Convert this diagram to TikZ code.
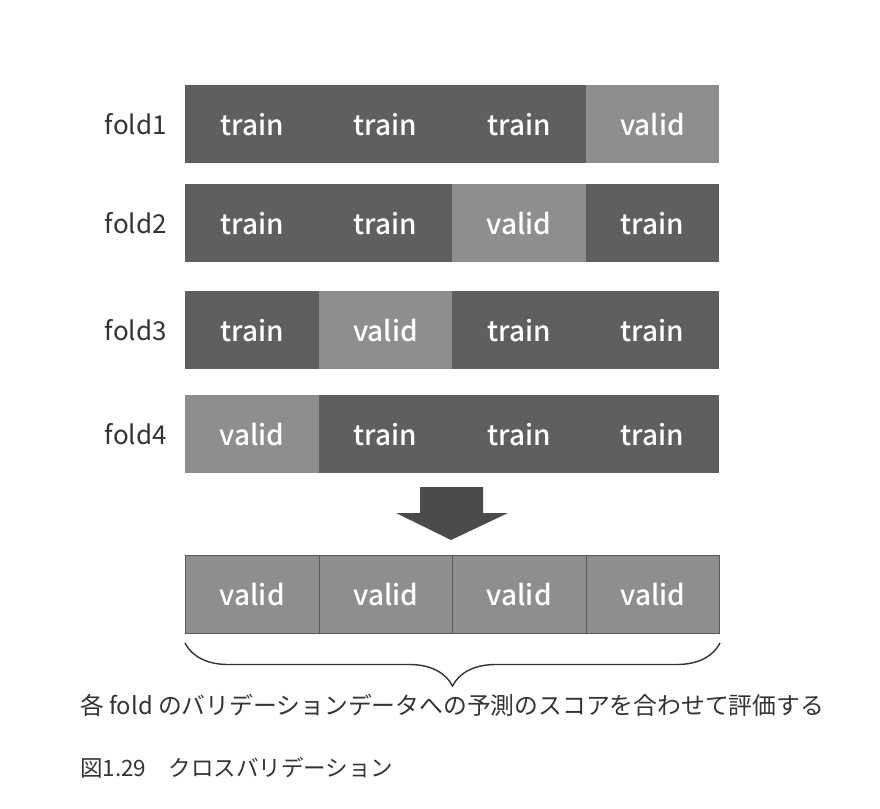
\documentclass[tikz,border=0pt]{standalone}
\usepackage{fontspec}
\setmainfont{Noto Sans CJK JP}[BoldFont={Noto Sans CJK JP Medium}]
\usetikzlibrary{%
  calc,%
  decorations.pathreplacing%
}
\definecolor{traingray}{HTML}{5F5F5F}
\definecolor{validgray}{HTML}{8E8E8E}
\definecolor{arrowgray}{HTML}{4B4B4B}
\definecolor{textgray}{HTML}{333333}
\tikzset{
  cell/.style={minimum width=133.5pt,minimum height=78pt,inner sep=0pt,
    anchor=north west,text=white,font=\fontsize{28}{28}\selectfont\bfseries},
  traincell/.style={cell,fill=traingray},
  validcell/.style={cell,fill=validgray},
  foldlabel/.style={anchor=east,inner sep=0pt,text=textgray,
    font=\fontsize{26}{26}\selectfont},
  note/.style={anchor=west,inner sep=0pt,text=textgray,
    font=\fontsize{23.8}{24}\selectfont}
}

\begin{document}
\begin{tikzpicture}[x=1pt,y=-1pt]
  \useasboundingbox (0,0) rectangle (880,808);
  % the four folds, valid part moves to the left
  \foreach \r/\top in {1/85,2/184,3/291,4/395} {
    \pgfmathtruncatemacro{\v}{5-\r}
    \foreach \c in {1,2,3,4} {
      \ifnum\c=\v
        \node[validcell] (f\r-\c) at (185+133.5*\c-133.5,\top) {valid};
      \else
        \node[traincell] (f\r-\c) at (185+133.5*\c-133.5,\top) {train};
      \fi
    }
    \node[foldlabel] (l\r) at ($(f\r-1.west)+(-18,0)$) {fold\r};
  }
  \fill[arrowgray] (420,487) -- (483,487) -- (483,513) -- (508,513)
    -- (451,540) -- (396,513) -- (420,513) -- cycle;
  % predictions put together
  \foreach \c in {1,2,3,4}
    \node[validcell,draw=black!65,line width=1pt] (v\c) at (185+133.5*\c-133.5,555) {valid};
  \draw[line width=1.4pt,textgray,decorate,decoration={brace,mirror,amplitude=43pt}]
    ([yshift=-9pt]v1.south west) -- ([yshift=-9pt]v4.south east);
  \node[note] (sum) at (80,705) {各 fold のバリデーションデータへの予測のスコアを合わせて評価する};
  \node[note,font=\fontsize{22.5}{23}\selectfont] (cap) at (80,768) {図1.29　クロスバリデーション};
\end{tikzpicture}
\end{document}
